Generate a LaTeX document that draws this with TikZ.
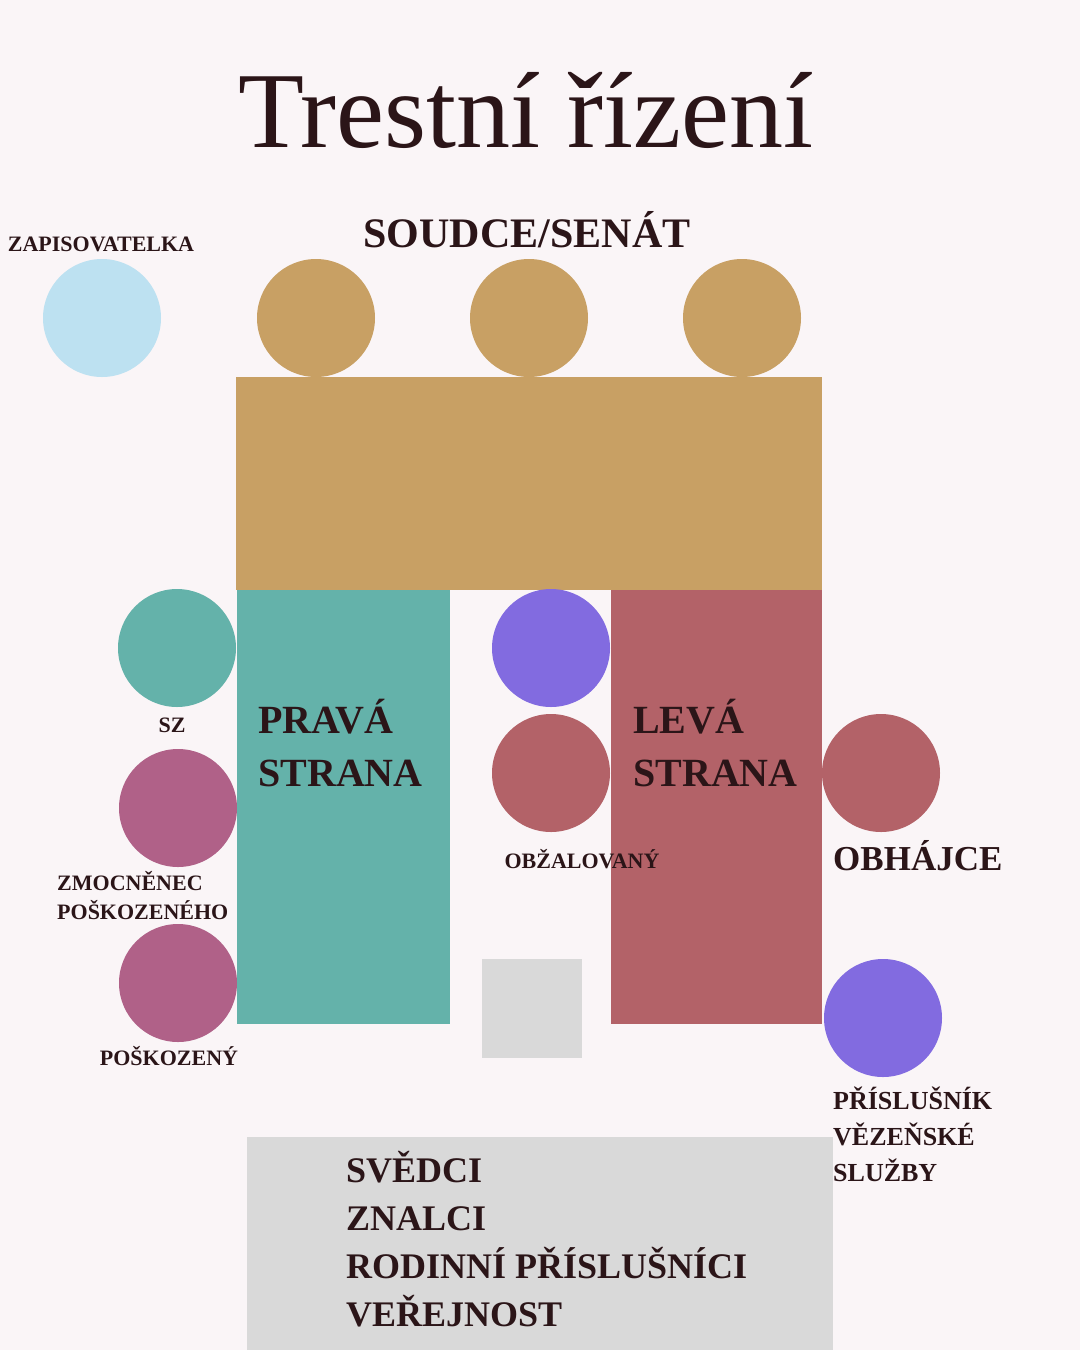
\documentclass[tikz,border=0pt]{standalone}
\usepackage{fontspec}
\setmainfont{Liberation Serif}
\usetikzlibrary{positioning}

\definecolor{paper}{HTML}{FAF5F7}
\definecolor{ink}{HTML}{2B1518}
\definecolor{gold}{HTML}{C8A064}
\definecolor{sky}{HTML}{BDE1F1}
\definecolor{teal}{HTML}{64B2AA}
\definecolor{plum}{HTML}{B06188}
\definecolor{rose}{HTML}{B36268}
\definecolor{violet}{HTML}{826BE0}
\definecolor{stone}{HTML}{D9D9D9}

\tikzset{
  seat/.style={circle,minimum size=118pt,inner sep=0pt},
  block/.style={rectangle,inner sep=0pt,anchor=north west},
  tag/.style={text=ink,inner sep=0pt,font=\bfseries\fontsize{22}{29}\selectfont},
  side/.style={text=ink,inner sep=0pt,align=left,font=\bfseries\fontsize{40}{53}\selectfont}
}

\begin{document}
\begin{tikzpicture}[x=1pt,y=-1pt]

  \fill[paper] (0,0) rectangle (1080,1350);
  \useasboundingbox (0,0) rectangle (1080,1350);

  \node[text=ink,inner sep=0pt,anchor=base,font=\fontsize{108}{108}\selectfont]
        (title) at (526,147) {Trestní řízení};

  % bench
  \node[block,fill=gold,minimum width=586pt,minimum height=213pt] (bench) at (236,377) {};
  \node[seat,fill=gold] (j1) at (316,318) {};
  \node[seat,fill=gold] (j2) at (529,318) {};
  \node[seat,fill=gold] (j3) at (742,318) {};
  \node[text=ink,inner sep=0pt,anchor=base,font=\bfseries\fontsize{42}{42}\selectfont]
        (senat) at (527,247) {SOUDCE/SENÁT};

  \node[seat,fill=sky] (zap) at (102,318) {};
  \node[tag,anchor=base] (zaplbl) at (101,251) {ZAPISOVATELKA};

  % prava strana
  \node[block,fill=teal,minimum width=213pt,minimum height=434pt] (prava) at (237,590) {};
  \node[side,anchor=base west] (pravalbl) at (258,786) {PRAVÁ\\STRANA};

  \node[seat,fill=teal] (sz) at (177,648) {};
  \node[tag,anchor=base] (szlbl) at (172,732) {SZ};
  \node[seat,fill=plum] (zmoc) at (178,808) {};
  \node[tag,anchor=base west,align=left] (zmoclbl) at (57,919) {ZMOCNĚNEC\\POŠKOZENÉHO};
  \node[seat,fill=plum] (posk) at (178,983) {};
  \node[tag,anchor=base] (posklbl) at (169,1065) {POŠKOZENÝ};

  % leva strana
  \node[block,fill=rose,minimum width=211pt,minimum height=434pt] (leva) at (611,590) {};
  \node[side,anchor=base west] (levalbl) at (633,786) {LEVÁ\\STRANA};

  \node[seat,fill=violet] (eskorta) at (551,648) {};
  \node[seat,fill=rose] (obz) at (551,773) {};
  \node[tag,anchor=base] (obzlbl) at (582,868) {OBŽALOVANÝ};
  \node[seat,fill=rose] (obh) at (881,773) {};
  \node[text=ink,inner sep=0pt,anchor=base west,font=\bfseries\fontsize{35}{35}\selectfont]
        (obhlbl) at (833,870) {OBHÁJCE};
  \node[seat,fill=violet] (vs) at (883,1018) {};
  \node[tag,anchor=base west,align=left,font=\bfseries\fontsize{26}{36}\selectfont]
        (vslbl) at (833,1181) {PŘÍSLUŠNÍK\\VĚZEŇSKÉ\\SLUŽBY};

  \node[block,fill=stone,minimum width=100pt,minimum height=99pt] (pult) at (482,959) {};

  % publikum
  \node[block,fill=stone,minimum width=586pt,minimum height=213pt] (lavice) at (247,1137) {};
  \node[side,anchor=base west,font=\bfseries\fontsize{36}{48}\selectfont] (lavicelbl) at (346,1326)
        {SVĚDCI\\ZNALCI\\RODINNÍ PŘÍSLUŠNÍCI\\VEŘEJNOST};

\end{tikzpicture}
\end{document}
